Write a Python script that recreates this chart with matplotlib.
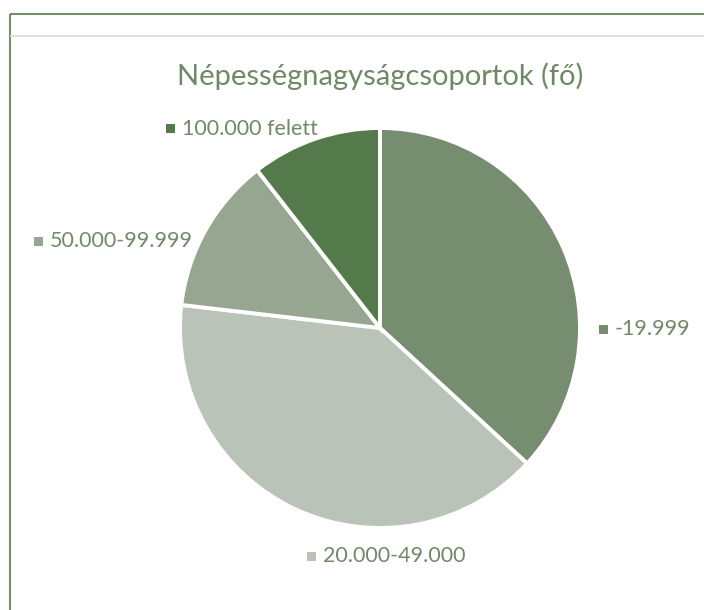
import matplotlib.pyplot as plt
from matplotlib.patches import Rectangle
from matplotlib.lines import Line2D

# population size groups (share of settlements)
categories = ['-19.999', '20.000-49.000', '50.000-99.999', '100.000 felett']
values = [35, 38, 12, 10]
colors = ['#778d6f', '#bac3b7', '#97a690', '#547a4b']

W, H = 704, 610
fig = plt.figure(figsize=(W / 100, H / 100), dpi=100)
fig.patch.set_facecolor('white')

def fx(px):
    return px / W

def fy(py):
    return 1 - py / H

# frame (top and left edges visible) and the thin header rule
fig.lines.append(Line2D([fx(9.5), 1.05], [fy(13.5), fy(13.5)], transform=fig.transFigure,
                        color='#5b8a50', linewidth=1.3, solid_capstyle='butt'))
fig.lines.append(Line2D([fx(9.5), fx(9.5)], [fy(13.5), -0.05], transform=fig.transFigure,
                        color='#5b8a50', linewidth=1.3, solid_capstyle='butt'))
fig.lines.append(Line2D([fx(10), 1.05], [fy(36), fy(36)], transform=fig.transFigure,
                        color='#dcdcd6', linewidth=1.2, solid_capstyle='butt'))

# pie, centred at (380, 328) px with a 200 px radius
cx, cy, r = 380, 328, 200
ax = fig.add_axes([fx(cx - r), fy(cy + r), fx(2 * r), fy(cy - r) - fy(cy + r)])
ax.pie(values, colors=colors, startangle=90, counterclock=False, radius=1,
       wedgeprops=dict(edgecolor='white', linewidth=2.8))
ax.set_xlim(-1, 1)
ax.set_ylim(-1, 1)
ax.set_aspect('equal')
ax.axis('off')

fig.text(fx(380), fy(76), 'Népességnagyságcsoportok (fő)', ha='center', va='center',
         fontsize=21, color='#6e8a63', family='Lato')

# category labels with a small colour key in front of each
label_pos = {
    '-19.999': (603, 329),
    '20.000-49.000': (311, 556),
    '50.000-99.999': (38, 241),
    '100.000 felett': (170, 129),
}
for cat, col in zip(categories, colors):
    px, py = label_pos[cat]
    fig.patches.append(Rectangle((fx(px - 4.5), fy(py + 4.5)), fx(9), fy(py - 4.5) - fy(py + 4.5),
                                 transform=fig.transFigure, facecolor=col,
                                 edgecolor='none'))
    fig.text(fx(px + 12), fy(py), cat, ha='left', va='center', fontsize=15.5,
             color='#6f8a66', family='Lato')

fig.savefig('out.png', dpi=100, facecolor='white')
